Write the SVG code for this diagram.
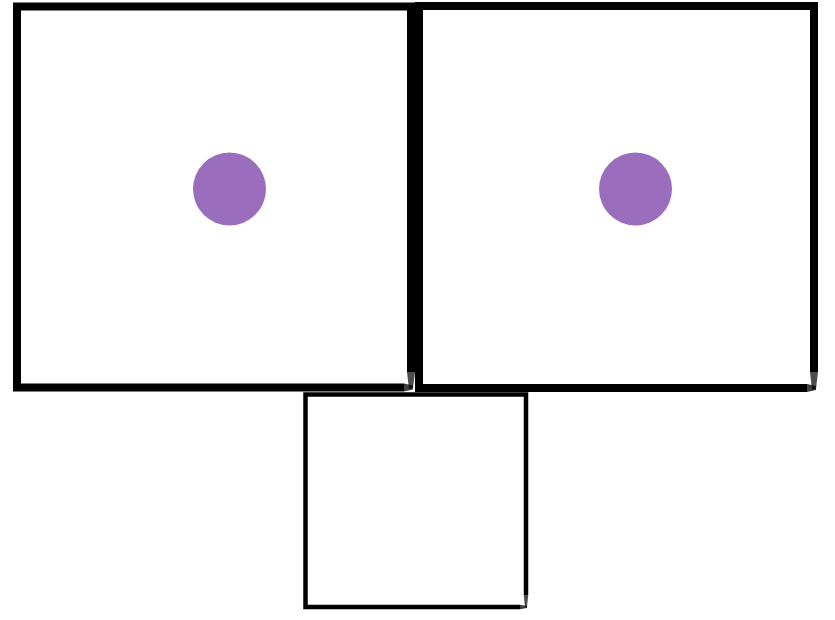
<svg xmlns="http://www.w3.org/2000/svg" width="835" height="620" viewBox="0 0 835 620">
  <style>
    .box { fill: none; stroke: #000; stroke-linecap: butt; stroke-linejoin: miter; }
    .big { stroke-width: 8; }
    .small { stroke-width: 4.5; }
    .dot { fill: #9a6dbd; }
  </style>
  <rect width="835" height="620" fill="#fff"/>
  <g id="left-room">
    <path class="box big" d="M411,372 L411,6.5 L17,6.5 L17,387.5 L404,387.5"/>
    <path d="M407,372 L415,372 L413,388 L409,389 Z" fill="#000" opacity="0.7"/>
    <path d="M404,383.5 L413,385.5 L413,389.5 L404,391.5 Z" fill="#000" opacity="0.75"/>
    <circle class="dot" cx="229.5" cy="189" r="36.5"/>
  </g>
  <g id="right-room">
    <path class="box big" d="M814,372 L814,6 L419,6 L419,388 L807,388"/>
    <path d="M810,372 L818,372 L816,389 L812,390 Z" fill="#000" opacity="0.7"/>
    <path d="M807,384 L816,386 L816,390 L807,392 Z" fill="#000" opacity="0.75"/>
    <circle class="dot" cx="635.5" cy="189" r="36.5"/>
  </g>
  <g id="small-room">
    <path class="box small" d="M526,595 L526,394.5 L305.5,394.5 L305.5,607 L520,607"/>
    <path d="M523.8,595 L528.2,595 L527,607 L525,608 Z" fill="#000" opacity="0.7"/>
    <path d="M520,604.8 L527,606 L527,608 L520,609.2 Z" fill="#000" opacity="0.75"/>
  </g>
  <g id="connectors"></g>
</svg>
